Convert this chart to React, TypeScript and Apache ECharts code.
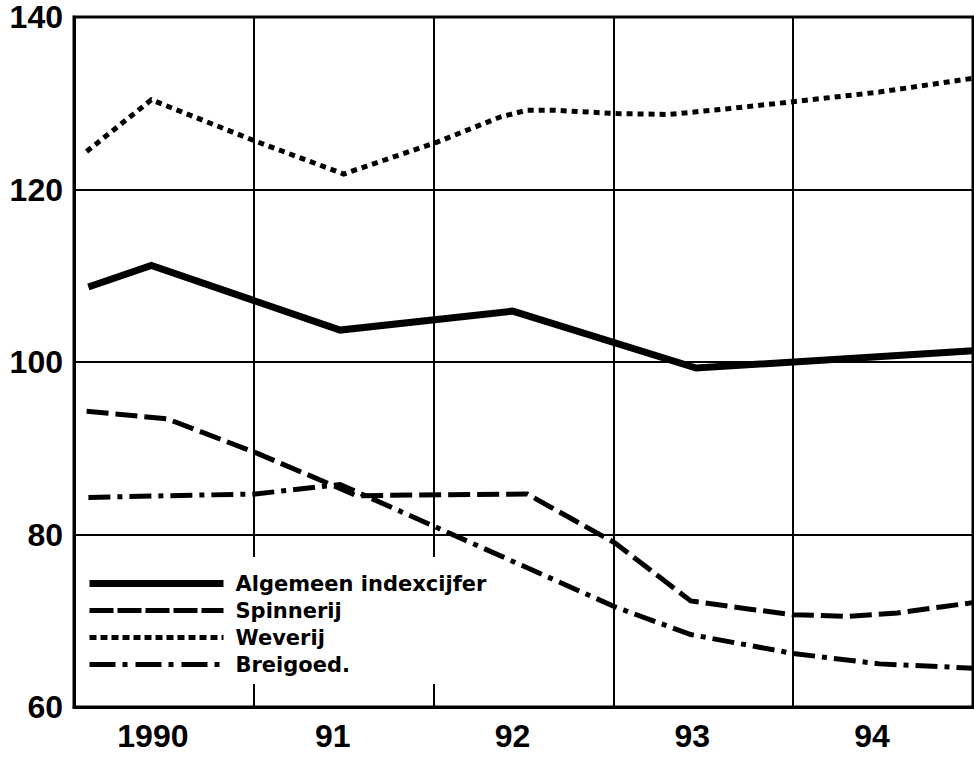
import React, { useEffect, useRef } from "react";
import * as echarts from "echarts";

// X positions are in years (fractional), Y values are index figures
const yearLabels = ["1990", "91", "92", "93", "94"];
const yTicks = [60, 80, 100, 120, 140];

const algemeenX = [1990.08, 1990.43, 1991.48, 1992.44, 1993.46, 1995.0];
const algemeenY = [108.7, 111.2, 103.7, 105.9, 99.3, 101.3];

const spinnerijX = [1990.07, 1990.52, 1991.02, 1991.45, 1991.57, 1992.52, 1993.01, 1993.43, 1993.74, 1994.0, 1994.3, 1994.58, 1994.82, 1995.0];
const spinnerijY = [94.3, 93.4, 89.4, 85.6, 84.5, 84.7, 79.0, 72.3, 71.4, 70.7, 70.5, 70.9, 71.6, 72.1];

const weverijX = [1990.07, 1990.43, 1991.01, 1991.5, 1992.02, 1992.37, 1992.52, 1992.66, 1993.02, 1993.31, 1993.65, 1994.01, 1994.48, 1995.0];
const weverijY = [124.4, 130.4, 125.6, 121.8, 125.5, 128.4, 129.2, 129.2, 128.8, 128.7, 129.4, 130.2, 131.3, 132.9];

const breigoedX = [1990.08, 1991.01, 1991.48, 1993.01, 1993.43, 1994.0, 1994.48, 1995.0];
const breigoedY = [84.3, 84.7, 85.8, 71.6, 68.4, 66.2, 65.0, 64.5];

const seriesNames = ["Algemeen indexcijfer", "Spinnerij", "Weverij", "Breigoed."];

const zip = (xs: number[], ys: number[]) => xs.map((x, i) => [x, ys[i]]);

export default function App() {
  const ref = useRef<HTMLDivElement>(null);

  useEffect(() => {
    if (!ref.current) return;
    const chart = echarts.init(ref.current, undefined, { renderer: "svg" });

    const styles = [
      { width: 7, type: "solid" as any },
      { width: 5, type: [22, 7] },
      { width: 5, type: [6, 5] },
      { width: 5, type: [22, 7, 5, 7] },
    ];
    const legendStyles = [
      { width: 7, type: "solid" as any },
      { width: 5, type: [24, 4] },
      { width: 5, type: [7, 4] },
      { width: 5, type: [26, 7, 5, 8] },
    ];
    const datas = [
      zip(algemeenX, algemeenY),
      zip(spinnerijX, spinnerijY),
      zip(weverijX, weverijY),
      zip(breigoedX, breigoedY),
    ];

    chart.setOption({
      animation: false,
      backgroundColor: "#fff",
      grid: {
        left: 74,
        right: 1,
        top: 17,
        bottom: 51,
        show: true,
        borderColor: "#000",
        borderWidth: 3,
      },
      xAxis: [
        {
          type: "value",
          min: 1990,
          max: 1995,
          interval: 1,
          axisLine: { show: true, lineStyle: { color: "#000", width: 3 } },
          axisTick: { show: false },
          axisLabel: { show: false },
          splitLine: { show: true, lineStyle: { color: "#000", width: 2 } },
        },
        {
          type: "category",
          data: yearLabels,
          position: "bottom",
          boundaryGap: true,
          axisLine: { show: false },
          axisTick: { show: false },
          splitLine: { show: false },
          axisLabel: {
            color: "#000",
            fontFamily: "Liberation Sans",
            fontWeight: "bold",
            fontSize: 32,
            margin: 13,
            padding: [0, 22, 0, 0],
          },
        },
      ],
      yAxis: {
        type: "value",
        min: yTicks[0],
        max: yTicks[yTicks.length - 1],
        interval: 20,
        axisLine: { show: true, lineStyle: { color: "#000", width: 3 } },
        axisTick: { show: false },
        splitLine: { show: true, lineStyle: { color: "#000", width: 2 } },
        axisLabel: {
          color: "#000",
          fontFamily: "Liberation Sans",
          fontWeight: "bold",
          fontSize: 32,
          margin: 11,
          padding: [12, 0, 0, 0],
        },
      },
      legend: {
        orient: "vertical",
        left: 76,
        top: 557,
        padding: [16, 12, 9, 10],
        backgroundColor: "#fff",
        itemWidth: 134,
        itemHeight: 14,
        itemGap: 6,
        textStyle: {
          color: "#000",
          fontFamily: "DejaVu Sans",
          fontWeight: "bold",
          fontSize: 21,
          lineHeight: 21,
          padding: [0, 0, 0, 7],
        },
        data: seriesNames.map((name, i) => ({
          name,
          itemStyle: { color: "rgba(0,0,0,0)", borderWidth: 0, opacity: 0 },
          lineStyle: { color: "#000", width: legendStyles[i].width, type: legendStyles[i].type, cap: "butt", opacity: 1 },
        })),
      },
      series: seriesNames.map((name, i) => ({
        name,
        type: "line",
        xAxisIndex: 0,
        symbol: "none",
        data: datas[i],
        z: 5,
        lineStyle: { color: "#000", width: styles[i].width, type: styles[i].type, cap: "butt", join: "miter" },
        itemStyle: { color: "#000" },
      })),
    });

    return () => chart.dispose();
  }, []);

  return (
    <div
      ref={ref}
      style={{ position: "absolute", left: 0, top: 0, width: 974, height: 758 }}
    />
  );
}
